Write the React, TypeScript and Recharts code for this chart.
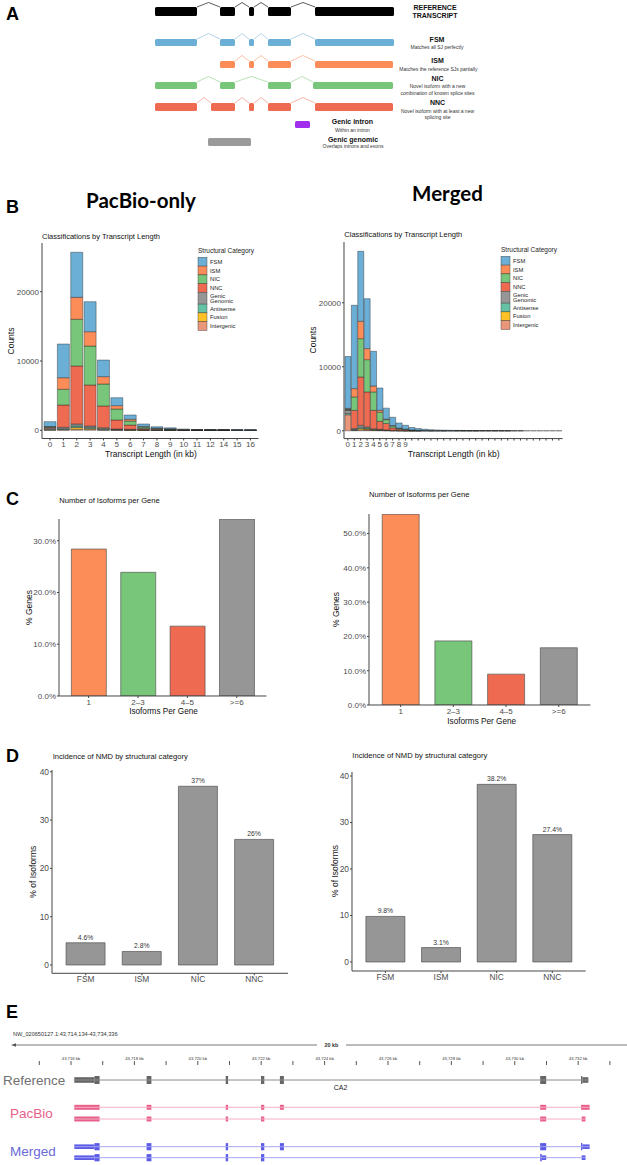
import React from 'react';
import { BarChart, Bar, XAxis, YAxis, ComposedChart, ReferenceArea, ReferenceLine, LabelList, Cell } from 'recharts';

const FONT = "'Liberation Sans', Arial, Helvetica, sans-serif";
const AXIS = '#444';

// ---------- panel A (schematic transcripts, schematic units) ----------
const referenceExons = [[155, 197], [220, 235], [249, 254], [268, 291], [315, 394]];
const fsmExons = [[155, 197], [220, 235], [249, 254], [268, 291], [315, 394]];
const ismExons = [[220, 235], [249, 254], [268, 291], [315, 393]];
const nicExons = [[155, 197], [220, 235], [268, 291], [313, 393]];
const nncExons = [[155, 197], [211, 235], [249, 254], [268, 291], [315, 393]];
const genicIntronExon = [295, 310];
const genicGenomicExon = [208, 251];

// ---------- panel B (transcript length) ----------
const categoryKeys = ['FSM', 'ISM', 'NIC', 'NNC', 'Genic', 'Antisense', 'Fusion', 'Intergenic'];
const categoryLabels = ['FSM', 'ISM', 'NIC', 'NNC', 'Genic\nGenomic', 'Antisense', 'Fusion', 'Intergenic'];
const categoryColors = ['#6BAED6', '#FC8D59', '#78C679', '#EE6A50', '#969696', '#66C2A4', '#FFC125', '#E9967A'];

const pacbioBins = ['0', '1', '2', '3', '4', '5', '6', '7', '8', '9', '10', '11', '12', '14', '15', '16'];
const pacbioFSM = [700, 4860, 6500, 4330, 2400, 1150, 620, 350, 200, 140, 80, 50, 35, 25, 18, 12];
const pacbioISM = [50, 1674, 3170, 2070, 1060, 490, 250, 100, 50, 30, 15, 10, 8, 5, 4, 3];
const pacbioNIC = [50, 2266, 6740, 5620, 3170, 1580, 580, 200, 100, 70, 30, 20, 15, 10, 8, 6];
const pacbioNNC = [150, 3220, 8370, 5920, 3130, 1290, 620, 150, 100, 70, 40, 25, 18, 14, 8, 6];
const pacbioGenic = [200, 200, 300, 200, 150, 80, 60, 50, 30, 25, 10, 5, 3, 3, 2, 2];
const pacbioAntisense = [50, 100, 200, 150, 100, 50, 40, 30, 10, 8, 3, 2, 1, 1, 1, 1];
const pacbioFusion = [0, 50, 250, 150, 80, 40, 20, 15, 10, 5, 2, 1, 1, 1, 0, 0];
const pacbioIntergenic = [50, 80, 160, 120, 50, 30, 20, 15, 5, 5, 2, 1, 1, 1, 0, 0];

const mergedBins = ['0', '1', '2', '3', '4', '5', '6', '7', '8', '9', '10', '11', '12', '13', '14', '15', '16',
  '17', '18', '19', '20', '21', '22', '23', '24', '25', '26', '27', '28', '29', '30', '31', '32', '33'];
const mergedFSM = [8100, 13020, 10940, 7810, 5420, 3490, 1720, 1300, 800, 600, 380, 260, 190, 140, 105, 80, 62,
  50, 38, 30, 25, 19, 16, 12, 10, 8, 7, 5, 4, 4, 3, 2, 2, 1];
const mergedISM = [100, 1300, 2710, 1720, 930, 310, 80, 50, 30, 20, 12, 8, 5, 4, 3, 2, 2,
  1, 1, 1, 1, 0, 0, 0, 0, 0, 0, 0, 0, 0, 0, 0, 0, 0];
const mergedNIC = [100, 2090, 5990, 5050, 2870, 1410, 600, 300, 150, 90, 50, 32, 22, 15, 11, 8, 6,
  5, 4, 3, 2, 2, 1, 1, 1, 1, 0, 0, 0, 0, 0, 0, 0, 0];
const mergedNNC = [100, 2850, 7550, 5450, 2880, 1250, 1000, 400, 200, 130, 60, 40, 26, 18, 14, 10, 8,
  6, 5, 4, 3, 2, 2, 1, 1, 1, 1, 1, 0, 0, 0, 0, 0, 0];
const mergedGenic = [500, 150, 300, 200, 120, 80, 50, 20, 15, 8, 5, 3, 2, 1, 1, 1, 0,
  0, 0, 0, 0, 0, 0, 0, 0, 0, 0, 0, 0, 0, 0, 0, 0, 0];
const mergedAntisense = [200, 100, 200, 150, 80, 60, 40, 20, 10, 6, 3, 2, 1, 1, 0, 0, 0,
  0, 0, 0, 0, 0, 0, 0, 0, 0, 0, 0, 0, 0, 0, 0, 0, 0];
const mergedFusion = [0, 30, 200, 150, 70, 50, 30, 10, 5, 3, 1, 1, 0, 0, 0, 0, 0,
  0, 0, 0, 0, 0, 0, 0, 0, 0, 0, 0, 0, 0, 0, 0, 0, 0];
const mergedIntergenic = [2500, 70, 160, 120, 50, 40, 20, 10, 10, 3, 1, 1, 0, 0, 0, 0, 0,
  0, 0, 0, 0, 0, 0, 0, 0, 0, 0, 0, 0, 0, 0, 0, 0, 0];

// ---------- panel C (isoforms per gene) ----------
const isoformBins = ['1', '2–3', '4–5', '>=6'];
const isoformColors = ['#FC8D59', '#78C679', '#EE6A50', '#969696'];
const pacbioIsoformPct = [28.4, 23.9, 13.5, 34.2];
const mergedIsoformPct = [55.6, 18.7, 9.0, 16.7];

// ---------- panel D (NMD) ----------
const nmdCategories = ['FSM', 'ISM', 'NIC', 'NNC'];
const pacbioNmdPct = [4.6, 2.8, 37, 26];
const pacbioNmdLabels = ['4.6%', '2.8%', '37%', '26%'];
const mergedNmdPct = [9.8, 3.1, 38.2, 27.4];
const mergedNmdLabels = ['9.8%', '3.1%', '38.2%', '27.4%'];

// ---------- panel E (genome browser, kb) ----------
const browserTicks = [43715, 43716, 43717, 43718, 43719, 43720, 43721, 43722, 43723, 43724, 43725, 43726,
  43727, 43728, 43729, 43730, 43731, 43732, 43733];
const referenceTrack = [
  [43716.104, 43716.74, 'utr'], [43716.74, 43716.902, 'cds'], [43718.385, 43718.536, 'cds'],
  [43720.88, 43720.956, 'cds'], [43721.994, 43722.098, 'cds'], [43722.59, 43722.716, 'cds'],
  [43730.801, 43730.991, 'cds'], [43732.09, 43732.13, 'cds'], [43732.13, 43732.32, 'utr'],
];
const pacbioTrack1 = [
  [43716.104, 43716.902, 'cds'], [43718.385, 43718.536, 'cds'], [43720.88, 43720.956, 'cds'],
  [43721.994, 43722.098, 'cds'], [43722.59, 43722.716, 'cds'], [43730.801, 43730.991, 'cds'],
  [43732.09, 43732.36, 'cds'],
];
const pacbioTrack2 = [
  [43716.104, 43716.902, 'cds'], [43718.385, 43718.536, 'cds'], [43720.88, 43720.956, 'cds'],
  [43721.994, 43722.098, 'cds'], [43730.801, 43730.991, 'cds'], [43732.11, 43732.23, 'cds'],
];
const mergedTrack1 = [
  [43716.104, 43716.74, 'utr'], [43716.74, 43716.902, 'cds'], [43718.385, 43718.536, 'cds'],
  [43720.88, 43720.956, 'cds'], [43721.994, 43722.098, 'cds'], [43722.59, 43722.716, 'cds'],
  [43730.801, 43730.991, 'cds'], [43732.09, 43732.13, 'cds'], [43732.13, 43732.36, 'utr'],
];
const mergedTrack2 = [
  [43716.104, 43716.74, 'utr'], [43716.74, 43716.902, 'cds'], [43718.385, 43718.536, 'cds'],
  [43720.88, 43720.956, 'cds'], [43721.994, 43722.098, 'cds'], [43730.801, 43730.85, 'cds'],
  [43730.85, 43730.991, 'utr'], [43732.11, 43732.23, 'utr'],
];

// ---------- helpers ----------
const YW = 40;
const XH = 20;
const M = 6;
type Frame = { pl: number; pt: number; pr: number; pb: number };
function place(f: Frame) {
  return { left: f.pl - YW, top: f.pt - M, width: f.pr - f.pl + YW + M, height: f.pb - f.pt + M + XH };
}
const tickStyle = { fontSize: 8, fill: '#4d4d4d', fontFamily: FONT };

function LengthChart({ bins, series, frame, domain, pad, labelMax }: any) {
  const p = place(frame);
  const data = bins.map((bin: string, i: number) => {
    const row: any = { bin };
    categoryKeys.forEach((k, j) => { row[k] = series[j][i]; });
    return row;
  });
  const order = categoryKeys.map((k, j) => j).reverse();
  return (
    <div style={{ position: 'absolute', left: p.left, top: p.top }}>
      <BarChart width={p.width} height={p.height} data={data} margin={{ top: M, right: M, bottom: 0, left: 0 }} barCategoryGap="5%">
        <XAxis dataKey="bin" height={XH} interval={0} padding={{ left: pad, right: pad }} tickSize={2} tickMargin={1}
          tick={tickStyle} stroke={AXIS} tickFormatter={(v: string) => (Number(v) <= labelMax ? v : '')} />
        <YAxis width={YW} type="number" domain={domain} allowDataOverflow ticks={[0, 10000, 20000]} tickSize={2}
          tickMargin={1} tick={tickStyle} stroke={AXIS} />
        {order.map((j) => (
          <Bar key={categoryKeys[j]} dataKey={categoryKeys[j]} stackId="s" fill={categoryColors[j]} stroke="#222"
            strokeWidth={0.4} isAnimationActive={false} />
        ))}
      </BarChart>
    </div>
  );
}

function IsoformChart({ values, frame, domain, ticks, pad }: any) {
  const p = place(frame);
  const data = isoformBins.map((bin, i) => ({ bin, pct: values[i] }));
  return (
    <div style={{ position: 'absolute', left: p.left, top: p.top }}>
      <BarChart width={p.width} height={p.height} data={data} margin={{ top: M, right: M, bottom: 0, left: 0 }} barCategoryGap="15%">
        <XAxis dataKey="bin" height={XH} interval={0} padding={{ left: pad, right: pad }} tickSize={2} tickMargin={1}
          tick={tickStyle} stroke={AXIS} />
        <YAxis width={YW} type="number" domain={domain} allowDataOverflow ticks={ticks} tickSize={2} tickMargin={1}
          tick={tickStyle} stroke={AXIS} tickFormatter={(v: number) => v.toFixed(1) + '%'} />
        <Bar dataKey="pct" stroke="#444" strokeWidth={0.6} isAnimationActive={false}>
          {data.map((d, i) => <Cell key={d.bin} fill={isoformColors[i]} />)}
        </Bar>
      </BarChart>
    </div>
  );
}

function NmdChart({ values, labels, frame, domain, pad }: any) {
  const p = place(frame);
  const data = nmdCategories.map((cat, i) => ({ cat, pct: values[i], label: labels[i] }));
  const t = { ...tickStyle, fontSize: 8.4 };
  return (
    <div style={{ position: 'absolute', left: p.left, top: p.top }}>
      <BarChart width={p.width} height={p.height} data={data} margin={{ top: M, right: M, bottom: 0, left: 0 }} barCategoryGap="15%">
        <XAxis dataKey="cat" height={XH} interval={0} padding={{ left: pad, right: pad }} tickSize={2} tickMargin={1}
          tick={t} stroke={AXIS} />
        <YAxis width={YW} type="number" domain={domain} allowDataOverflow ticks={[0, 10, 20, 30, 40]} tickSize={2}
          tickMargin={1} tick={t} stroke={AXIS} />
        <Bar dataKey="pct" fill="#969696" stroke="#555" strokeWidth={0.7} isAnimationActive={false}>
          <LabelList dataKey="label" position="top" offset={3} style={{ fontSize: 6.8, fill: '#333', fontFamily: FONT }} />
        </Bar>
      </BarChart>
    </div>
  );
}

// panel A row layout
const schematicRows = [
  { exons: referenceExons, top: 7, bottom: 16, fill: '#000', line: '#333', rise: 4.5 },
  { exons: fsmExons, top: 39, bottom: 46, fill: '#6BAED6', line: '#9ECAE1', rise: 5.5 },
  { exons: ismExons, top: 61, bottom: 68, fill: '#FC8D59', line: '#FDB38F', rise: 5.5 },
  { exons: nicExons, top: 82, bottom: 89, fill: '#78C679', line: '#A8DBA3', rise: 5.5 },
  { exons: nncExons, top: 103, bottom: 111, fill: '#EE6A50', line: '#F4A090', rise: 5.5 },
];

function SchematicPanel() {
  const parts: any[] = [];
  schematicRows.forEach((row, r) => {
    row.exons.forEach((e, i) => {
      parts.push(<ReferenceArea key={`e${r}-${i}`} x1={e[0]} x2={e[1]} y1={row.top} y2={row.bottom} fill={row.fill}
        fillOpacity={1} stroke="none" radius={1.5} ifOverflow="visible" />);
      const next = row.exons[i + 1];
      if (next) {
        const mid = (e[1] + next[0]) / 2;
        parts.push(<ReferenceLine key={`a${r}-${i}`} segment={[{ x: e[1], y: row.top }, { x: mid, y: row.top - row.rise }]}
          stroke={row.line} strokeWidth={0.8} ifOverflow="visible" />);
        parts.push(<ReferenceLine key={`b${r}-${i}`} segment={[{ x: mid, y: row.top - row.rise }, { x: next[0], y: row.top }]}
          stroke={row.line} strokeWidth={0.8} ifOverflow="visible" />);
      }
    });
  });
  return (
    <div style={{ position: 'absolute', left: 0, top: 0 }}>
      <ComposedChart width={627} height={155} margin={{ top: 0, right: 0, bottom: 0, left: 0 }}>
        <XAxis type="number" dataKey="x" domain={[0, 627]} hide allowDataOverflow />
        <YAxis type="number" dataKey="y" domain={[0, 155]} reversed hide allowDataOverflow />
        {parts}
        <ReferenceArea x1={genicIntronExon[0]} x2={genicIntronExon[1]} y1={121} y2={128} fill="#A030EE" fillOpacity={1}
          radius={1.5} ifOverflow="visible" />
        <ReferenceArea x1={genicGenomicExon[0]} x2={genicGenomicExon[1]} y1={138} y2={146} fill="#9a9a9a" fillOpacity={1}
          radius={1.5} ifOverflow="visible" />
      </ComposedChart>
    </div>
  );
}

const browserRows = [
  { track: referenceTrack, y: 15, cds: 4, utr: 2.8, fill: '#666', line: '#8a8a8a' },
  { track: pacbioTrack1, y: 42.3, cds: 2.5, utr: 2.5, fill: '#E8608A', line: '#F4AFC4' },
  { track: pacbioTrack2, y: 54, cds: 2.5, utr: 2.5, fill: '#E8608A', line: '#F4AFC4' },
  { track: mergedTrack1, y: 81.7, cds: 3.6, utr: 2.3, fill: '#5C5CE6', line: '#A5A5F0' },
  { track: mergedTrack2, y: 92.7, cds: 3.6, utr: 2.3, fill: '#5C5CE6', line: '#A5A5F0' },
];

function GenomeBrowser() {
  const parts: any[] = [];
  browserRows.forEach((row, r) => {
    const start = row.track[0][0] as number;
    const end = row.track[row.track.length - 1][1] as number;
    parts.push(<ReferenceLine key={`l${r}`} segment={[{ x: start, y: row.y }, { x: end, y: row.y }]} stroke={row.line}
      strokeWidth={1} ifOverflow="visible" />);
    row.track.forEach((e, i) => {
      const hh = e[2] === 'cds' ? row.cds : row.utr;
      parts.push(<ReferenceArea key={`x${r}-${i}`} x1={e[0] as number} x2={e[1] as number} y1={row.y - hh} y2={row.y + hh}
        fill={row.fill} fillOpacity={1} stroke="none" ifOverflow="visible" />);
    });
  });
  return (
    <div style={{ position: 'absolute', left: 0, top: 1025 }}>
      <ComposedChart width={627} height={140} margin={{ top: 0, right: 0, bottom: 0, left: 0 }}>
        <XAxis type="number" dataKey="x" orientation="top" domain={[43713.76, 43733.54]} allowDataOverflow ticks={browserTicks}
          interval={0} height={40} axisLine={false} tickSize={4} tickMargin={1} stroke="#555"
          tick={{ fontSize: 4.2, fill: '#333', fontFamily: FONT }}
          tickFormatter={(v: number) => (v % 2 === 0 ? `43,${String(v).slice(2)} kb` : '')} />
        <YAxis type="number" dataKey="y" domain={[0, 100]} reversed hide allowDataOverflow />
        {parts}
      </ComposedChart>
    </div>
  );
}

function T({ x, y, s, w, a, c, r, children }: any) {
  return (
    <text x={x} y={y} fontSize={s} fontWeight={w || 'normal'} textAnchor={a || 'start'} fill={c || '#111'}
      fontFamily={FONT} transform={r ? `rotate(-90 ${x} ${y})` : undefined}>{children}</text>
  );
}

function LegendBox({ x, y0, titleY }: any) {
  const rowH = [8.8, 8.8, 8.8, 8.8, 11.6, 8.8, 8.8, 8.8];
  let y = y0;
  const items = categoryLabels.map((lab, i) => {
    const h = rowH[i];
    const lines = lab.split('\n');
    const el = (
      <g key={lab}>
        <rect x={x} y={y} width={9} height={h} fill={categoryColors[i]} stroke="#333" strokeWidth={0.4} />
        {lines.map((ln, k) => (
          <T key={ln} x={x + 12} y={y + h / 2 + 2 + (k - (lines.length - 1) / 2) * 5.6} s={5.8} c="#222">{ln}</T>
        ))}
      </g>
    );
    y += h;
    return el;
  });
  return (
    <g>
      <T x={x} y={titleY} s={6.5} c="#222">Structural Category</T>
      {items}
    </g>
  );
}

function Overlay() {
  const small = 5;
  return (
    <svg width={627} height={1165} style={{ position: 'absolute', left: 0, top: 0, pointerEvents: 'none' }}>
      {/* panel letters */}
      <T x={6} y={20} s={18} w="bold" c="#000">A</T>
      <T x={6} y={213} s={18} w="bold" c="#000">B</T>
      <T x={6} y={505} s={18} w="bold" c="#000">C</T>
      <T x={6} y={761.5} s={18} w="bold" c="#000">D</T>
      <T x={6} y={1018} s={18} w="bold" c="#000">E</T>

      {/* panel A labels */}
      <T x={435} y={10} s={7} w="bold" a="middle">REFERENCE</T>
      <T x={435} y={18.3} s={7} w="bold" a="middle">TRANSCRIPT</T>
      <T x={437} y={42.3} s={7} w="bold" a="middle">FSM</T>
      <T x={437} y={48.7} s={small} a="middle" c="#333">Matches all SJ perfectly</T>
      <T x={437.6} y={63.3} s={7} w="bold" a="middle">ISM</T>
      <T x={438.4} y={70.7} s={small} a="middle" c="#333">Matches the reference SJs partially</T>
      <T x={437.5} y={81} s={7} w="bold" a="middle">NIC</T>
      <T x={437.5} y={87.7} s={small} a="middle" c="#333">Novel isoform with a new</T>
      <T x={437.5} y={95} s={small} a="middle" c="#333">combination of known splice sites</T>
      <T x={437.5} y={105.3} s={7} w="bold" a="middle">NNC</T>
      <T x={437.5} y={112.7} s={small} a="middle" c="#333">Novel isoform with at least a new</T>
      <T x={437.5} y={119.3} s={small} a="middle" c="#333">splicing site</T>
      <T x={352.4} y={124.3} s={7} w="bold" a="middle">Genic intron</T>
      <T x={352.4} y={131.7} s={small} a="middle" c="#333">Within an intron</T>
      <T x={353} y={141.7} s={7} w="bold" a="middle">Genic genomic</T>
      <T x={353} y={148.3} s={small} a="middle" c="#333">Overlaps introns and exons</T>

      {/* panel B headers */}
      <text x={141} y={208} fontSize={20.5} fontWeight="bold" textAnchor="middle" fontFamily="Lato, 'Open Sans', sans-serif" fill="#000">PacBio-only</text>
      <text x={447.5} y={201} fontSize={20.5} fontWeight="bold" textAnchor="middle" fontFamily="Lato, 'Open Sans', sans-serif" fill="#000">Merged</text>
      <T x={42} y={238.5} s={7.5}>Classifications by Transcript Length</T>
      <T x={344.3} y={237} s={7.5}>Classifications by Transcript Length</T>
      <T x={14} y={341} s={8.5} a="middle" r>Counts</T>
      <T x={316} y={340} s={8.5} a="middle" r>Counts</T>
      <T x={151} y={457} s={8.5} a="middle">Transcript Length (in kb)</T>
      <T x={453.7} y={457.3} s={8.5} a="middle">Transcript Length (in kb)</T>
      <LegendBox x={198} y0={257.3} titleY={253} />
      <LegendBox x={501} y0={256.3} titleY={251.7} />

      {/* panel C */}
      <T x={59.3} y={503} s={7.6}>Number of Isoforms per Gene</T>
      <T x={369} y={496.5} s={7.6}>Number of Isoforms per Gene</T>
      <T x={31.5} y={607.5} s={8.5} a="middle" r>% Genes</T>
      <T x={339} y={609.5} s={8.5} a="middle" r>% Genes</T>
      <T x={163.5} y={714} s={8.2} a="middle">Isoforms Per Gene</T>
      <T x={481.7} y={724} s={8.2} a="middle">Isoforms Per Gene</T>

      {/* panel D */}
      <T x={52.7} y={758.5} s={7.6}>Incidence of NMD by structural category</T>
      <T x={352.3} y={757.5} s={7.6}>Incidence of NMD by structural category</T>
      <T x={36.5} y={871.7} s={8.5} a="middle" r>% of Isoforms</T>
      <T x={338} y={871} s={8.5} a="middle" r>% of Isoforms</T>

      {/* panel E */}
      <T x={13} y={1036} s={5.6} c="#333">NW_020650127.1:43,714,134-43,734,336</T>
      <line x1={14} y1={1045} x2={317} y2={1045} stroke="#555" strokeWidth={0.8} />
      <line x1={346} y1={1045} x2={627} y2={1045} stroke="#555" strokeWidth={0.8} />
      <polygon points="11,1045 16,1043.2 16,1046.8" fill="#555" />
      <T x={331.5} y={1047} s={5.4} w="bold" a="middle" c="#333">20 kb</T>
      <T x={3} y={1085} s={13.5} c="#707070">Reference</T>
      <T x={10} y={1117.5} s={13.5} c="#E8608A">PacBio</T>
      <T x={10} y={1155.7} s={13.5} c="#6A6AD8">Merged</T>
      <T x={340.6} y={1090} s={7} a="middle" c="#222">CA2</T>
    </svg>
  );
}

export default function App() {
  return (
    <div style={{ position: 'absolute', left: 0, top: 0, width: 627, height: 1165, background: '#fff', overflow: 'hidden', fontFamily: FONT }}>
      <SchematicPanel />
      <LengthChart bins={pacbioBins}
        series={[pacbioFSM, pacbioISM, pacbioNIC, pacbioNNC, pacbioGenic, pacbioAntisense, pacbioFusion, pacbioIntergenic]}
        frame={{ pl: 42, pt: 243, pr: 258.5, pb: 438.5 }} domain={[-1183, 27028]} pad={1.35} labelMax={99} />
      <LengthChart bins={mergedBins}
        series={[mergedFSM, mergedISM, mergedNIC, mergedNNC, mergedGenic, mergedAntisense, mergedFusion, mergedIntergenic]}
        frame={{ pl: 344, pt: 241.7, pr: 562.7, pb: 438.3 }} domain={[-1219, 29500]} pad={0.64} labelMax={9} />
      <IsoformChart values={pacbioIsoformPct} frame={{ pl: 59.3, pt: 519, pr: 266.7, pb: 696 }} domain={[0, 34.2]}
        ticks={[0, 10, 20, 30]} pad={4.94} />
      <IsoformChart values={mergedIsoformPct} frame={{ pl: 369.3, pt: 514, pr: 590.7, pb: 705 }} domain={[0, 55.7]}
        ticks={[0, 10, 20, 30, 40, 50]} pad={5.27} />
      <NmdChart values={pacbioNmdPct} labels={pacbioNmdLabels} frame={{ pl: 52.3, pt: 770, pr: 288.3, pb: 973.3 }}
        domain={[-1.72, 40.37]} pad={5.62} />
      <NmdChart values={mergedNmdPct} labels={mergedNmdLabels} frame={{ pl: 352.3, pt: 771.7, pr: 586, pb: 970.7 }}
        domain={[-1.94, 40.86]} pad={5.56} />
      <GenomeBrowser />
      <Overlay />
    </div>
  );
}
